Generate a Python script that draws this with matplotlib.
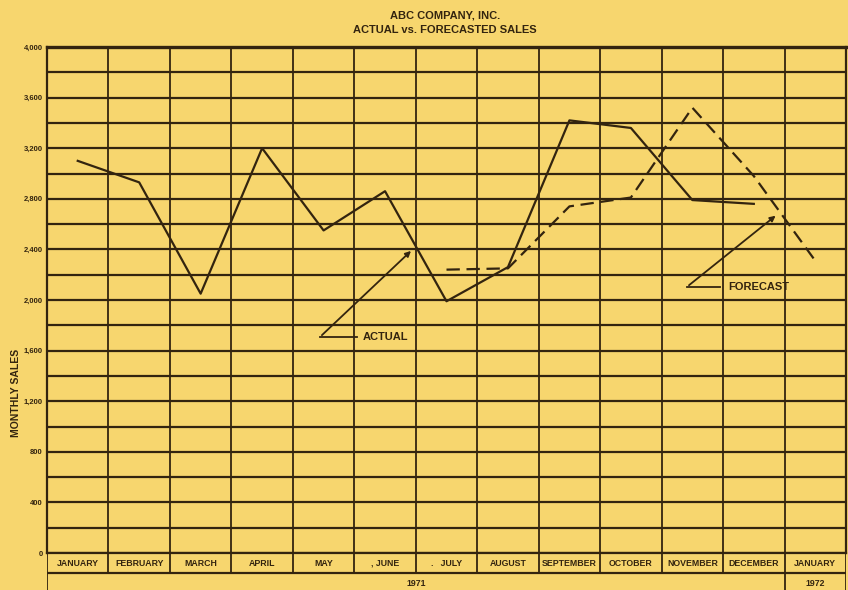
import matplotlib.pyplot as plt
import numpy as np

# Data
months = ['JANUARY', 'FEBRUARY', 'MARCH', 'APRIL', 'MAY', ', JUNE', '.   JULY',
          'AUGUST', 'SEPTEMBER', 'OCTOBER', 'NOVEMBER', 'DECEMBER', 'JANUARY']
actual = [3100, 2930, 2050, 3200, 2550, 2860, 1990, 2260, 3420, 3360, 2790, 2760]
forecast_months = [6, 7, 8, 9, 10, 11, 12]
forecast = [2240, 2250, 2740, 2810, 3520, 2980, 2310]
yticks = [0, 400, 800, 1200, 1600, 2000, 2400, 2800, 3200, 3600, 4000]
ytick_labels = ['0', '400', '800', '1,200', '1,600', '2,000', '2,400', '2,800',
                '3,200', '3,600', '4,000']
years = ['1971', '1972']

bg = '#F7D66E'
ink = '#33240F'
plt.rcParams['font.family'] = ['Liberation Sans', 'DejaVu Sans']

W, H = 848, 590
fig = plt.figure(figsize=(W / 100, H / 100), dpi=100, facecolor=bg)

# main grid axes (pixel box: x 47..846, y 47..553)
ax = fig.add_axes([47 / W, 1 - 553 / H, (846 - 47) / W, (553 - 47) / H])
ax.set_facecolor(bg)
ax.set_xlim(0, 13)
ax.set_ylim(0, 4000)
for s in ax.spines.values():
    s.set_color(ink)
    s.set_linewidth(1.6)
ax.spines['top'].set_linewidth(2.4)

for v in range(0, 4001, 200):
    ax.axhline(v, color=ink, lw=1.6, zorder=1)
for i in range(14):
    ax.axvline(i, color=ink, lw=1.3, zorder=1)

ax.set_xticks([])
ax.set_yticks(yticks)
ax.set_yticklabels(ytick_labels, fontsize=5.5, fontweight='bold', color=ink)
ax.tick_params(axis='y', length=0, pad=3)

# y label sits lower than the axis middle in the original
fig.text(16 / W, 1 - 393 / H, 'MONTHLY SALES', fontsize=7.5, fontweight='bold',
         color=ink, rotation=90, ha='center', va='center')

x_act = np.arange(len(actual)) + 0.5
ax.plot(x_act, actual, color=ink, lw=1.6, zorder=3)
x_fc = np.array(forecast_months) + 0.5
ax.plot(x_fc, forecast, color=ink, lw=1.6, ls=(0, (6, 3)), zorder=3)

# callouts
ax.plot([4.44, 5.04], [1707, 1707], color=ink, lw=1.3)
ax.annotate('', xy=(5.955, 2403), xytext=(4.44, 1707),
            arrowprops=dict(arrowstyle='-|>', color=ink, lw=1.3, mutation_scale=8))
ax.text(5.13, 1707, 'ACTUAL', fontsize=8, fontweight='bold', color=ink, va='center')

ax.plot([10.41, 10.95], [2103, 2103], color=ink, lw=1.3)
ax.annotate('', xy=(11.89, 2680), xytext=(10.41, 2103),
            arrowprops=dict(arrowstyle='-|>', color=ink, lw=1.3, mutation_scale=8))
ax.text(11.08, 2103, 'FORECAST', fontsize=8, fontweight='bold', color=ink, va='center')

# month / year table under the grid (pixel y 553..600)
tb = fig.add_axes([47 / W, 1 - 600 / H, (846 - 47) / W, (600 - 553) / H])
tb.set_facecolor(bg)
tb.set_xlim(0, 13)
tb.set_ylim(47, 0)
tb.axis('off')
tb.plot([0, 13], [20, 20], color=ink, lw=1.6)
for i in range(14):
    tb.plot([i, i], [0, 20], color=ink, lw=1.3)
for i in (0, 12, 13):
    tb.plot([i, i], [20, 47], color=ink, lw=1.3)
for i, m in enumerate(months):
    tb.text(i + 0.5, 10, m, fontsize=6.3, fontweight='bold', color=ink,
            ha='center', va='center')
tb.text(6, 30, years[0], fontsize=6.3, fontweight='bold', color=ink, ha='center', va='center')
tb.text(12.5, 30, years[1], fontsize=6.3, fontweight='bold', color=ink, ha='center', va='center')

# titles
fig.text(445 / W, 1 - 15 / H, 'ABC COMPANY, INC.', fontsize=8, fontweight='bold',
         color=ink, ha='center', va='center')
fig.text(445 / W, 1 - 30 / H, 'ACTUAL vs. FORECASTED SALES', fontsize=8,
         fontweight='bold', color=ink, ha='center', va='center')

fig.savefig('out.png', dpi=100, facecolor=bg)
